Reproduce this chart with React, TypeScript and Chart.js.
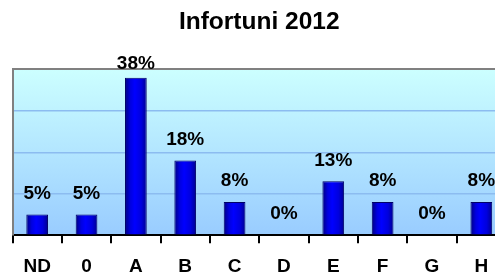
import React, { useEffect, useRef } from "react";
import { Chart, registerables } from "chart.js";

Chart.register(...registerables);

const chartTitle = "Infortuni 2012";
const categories = ["ND", "0", "A", "B", "C", "D", "E", "F", "G", "H"];
const values = [5, 5, 38, 18, 8, 0, 13, 8, 0, 8];
const yMin = 0;
const yMax = 40;
const yStep = 10;

const FONT = "'Liberation Sans', Arial, Helvetica, sans-serif";
const BAR_PCT = 0.44;

const bgPlugin = {
  id: "plotBg",
  beforeDraw(chart: any) {
    const { ctx, chartArea } = chart;
    if (!chartArea) return;
    const g = ctx.createLinearGradient(0, chartArea.top, 0, chartArea.bottom);
    g.addColorStop(0, "#ccffff");
    g.addColorStop(1, "#99ccff");
    ctx.save();
    ctx.fillStyle = g;
    ctx.fillRect(chartArea.left, chartArea.top, chartArea.right - chartArea.left, chartArea.bottom - chartArea.top);
    ctx.restore();
  },
};

const labelPlugin = {
  id: "valueLabels",
  afterDatasetsDraw(chart: any) {
    const { ctx } = chart;
    const meta = chart.getDatasetMeta(0);
    ctx.save();
    ctx.font = `bold 19px ${FONT}`;
    ctx.fillStyle = "#000";
    ctx.textAlign = "center";
    ctx.textBaseline = "middle";
    meta.data.forEach((bar: any, i: number) => {
      const y = Math.max(bar.y - 21, 64);
      ctx.fillText(values[i] + "%", bar.x, y);
    });
    ctx.restore();
  },
};

function barFill(c: any) {
  const chart = c.chart;
  const xs = chart.scales && chart.scales.x;
  if (!xs || !chart.chartArea) return "#0000ff";
  const cx = xs.getPixelForValue(c.dataIndex);
  const w = (xs.width / categories.length) * BAR_PCT;
  const g = chart.ctx.createLinearGradient(cx - w / 2, 0, cx + w / 2, 0);
  g.addColorStop(0, "#000080");
  g.addColorStop(0.25, "#0000e0");
  g.addColorStop(0.45, "#0000ff");
  g.addColorStop(0.75, "#0000dd");
  g.addColorStop(1, "#000090");
  return g;
}

export default function App() {
  const ref = useRef<HTMLCanvasElement | null>(null);
  useEffect(() => {
    document.body.style.margin = "0";
    document.body.style.overflow = "hidden";
    const chart = new Chart(ref.current as HTMLCanvasElement, {
      type: "bar",
      data: {
        labels: categories,
        datasets: [
          {
            data: values,
            backgroundColor: barFill as any,
            borderColor: "#000066",
            borderWidth: ((c: any) => (values[c.dataIndex] === 0 ? 0 : 1)) as any,
            barPercentage: BAR_PCT,
            categoryPercentage: 1,
          },
        ],
      },
      options: {
        animation: false,
        responsive: false,
        layout: { padding: { left: 12.5, right: 14, top: 0, bottom: 6 } },
        plugins: {
          legend: { display: false },
          tooltip: { enabled: false },
          title: {
            display: true,
            text: chartTitle,
            color: "#000",
            font: { family: FONT, size: 24.5, weight: "bold" },
            padding: { top: 7.5, bottom: 32.5 },
          },
        },
        scales: {
          x: {
            grid: {
              offset: true,
              drawOnChartArea: false,
              drawTicks: true,
              tickLength: 8,
              color: "#000",
              lineWidth: 2,
            },
            border: { display: true, color: "#000", width: 2 },
            ticks: {
              color: "#000",
              padding: 12,
              font: { family: FONT, size: 19, weight: "bold" },
            },
          },
          y: {
            min: yMin,
            max: yMax,
            ticks: { stepSize: yStep, display: false },
            grid: {
              drawTicks: false,
              color: ((c: any) =>
                c.tick && c.tick.value === yMax ? "#808080" : c.tick && c.tick.value === yMin ? "rgba(0,0,0,0)" : "#8cbcf0") as any,
              lineWidth: ((c: any) => (c.tick && c.tick.value === yMax ? 2 : 1.5)) as any,
            },
            border: { display: true, color: "#808080", width: 2 },
          },
        },
      },
      plugins: [bgPlugin, labelPlugin],
    });
    return () => chart.destroy();
  }, []);
  return (
    <div style={{ width: 520, height: 296 }}>
      <canvas ref={ref} width={520} height={296} style={{ display: "block" }} />
    </div>
  );
}
